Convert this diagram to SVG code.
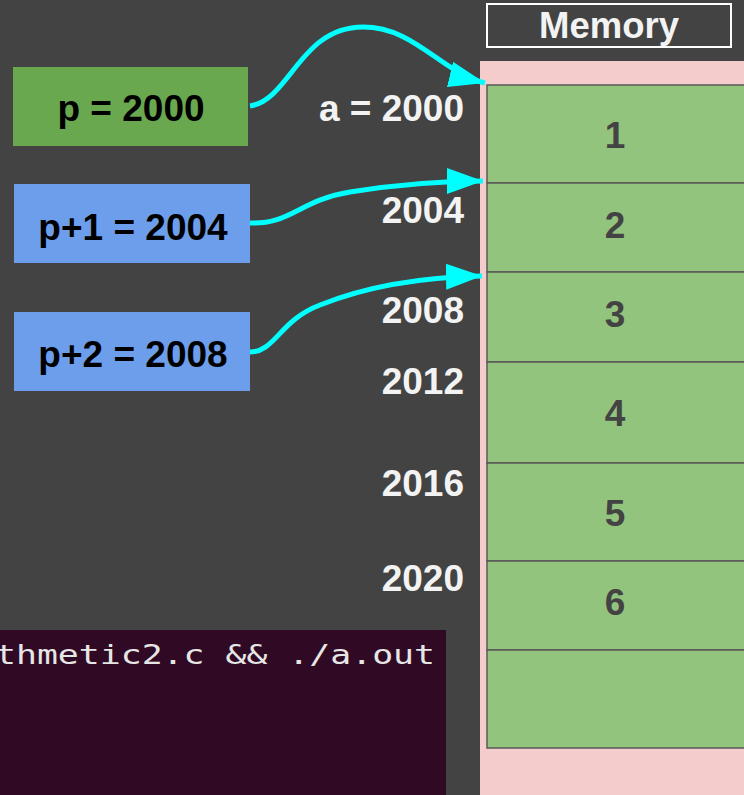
<svg xmlns="http://www.w3.org/2000/svg" width="744" height="795" viewBox="0 0 744 795">
<style>
.lbl{font-family:"Liberation Sans",Arial,sans-serif;font-weight:bold;}
.addr{fill:#f3f3f3;font-size:37px;text-anchor:end;}
.num{fill:#434343;font-size:37px;text-anchor:middle;}
.ptr{fill:#000;font-size:37px;text-anchor:middle;}
.cell{fill:#93c47d;stroke:#595959;stroke-width:1.5;}
.arrow{fill:none;stroke:#00ffff;stroke-width:5;marker-end:url(#ah);}
</style>
<defs>
<marker id="ah" markerUnits="userSpaceOnUse" markerWidth="38" markerHeight="28" refX="36" refY="13" orient="auto">
<path d="M0,0 L36,13 L0,26 z" fill="#00ffff"/>
</marker>
</defs>
<rect x="0" y="0" width="744" height="795" fill="#434343"/>
<g id="terminal">
<rect x="0" y="630" width="446" height="165" fill="#300a24"/>
<text x="-5" y="664" font-family="'DejaVu Sans Mono','Liberation Mono',monospace" font-size="26" fill="#e6e6e6" textLength="440" lengthAdjust="spacingAndGlyphs">thmetic2.c &amp;&amp; ./a.out</text>
</g>
<g id="memory-title">
<rect x="487" y="4" width="244" height="43" fill="none" stroke="#ffffff" stroke-width="2"/>
<text class="lbl" x="609" y="38" font-size="36.5" fill="#f3f3f3" text-anchor="middle">Memory</text>
</g>
<g id="memory">
<rect x="480" y="61" width="264" height="734" fill="#f4cccc"/>
<g id="cell1"><rect class="cell" x="487" y="85" width="260" height="98"/><text class="lbl num" x="615" y="148">1</text></g>
<g id="cell2"><rect class="cell" x="487" y="183" width="260" height="89"/><text class="lbl num" x="615" y="238">2</text></g>
<g id="cell3"><rect class="cell" x="487" y="272" width="260" height="90"/><text class="lbl num" x="615" y="327">3</text></g>
<g id="cell4"><rect class="cell" x="487" y="362" width="260" height="101"/><text class="lbl num" x="615" y="426">4</text></g>
<g id="cell5"><rect class="cell" x="487" y="463" width="260" height="98"/><text class="lbl num" x="615" y="526">5</text></g>
<g id="cell6"><rect class="cell" x="487" y="561" width="260" height="89"/><text class="lbl num" x="615" y="615">6</text></g>
<g id="cell7"><rect class="cell" x="487" y="650" width="260" height="98"/></g>
</g>
<g id="addresses">
<text class="lbl addr" x="464" y="121">a = 2000</text>
<text class="lbl addr" x="464" y="223">2004</text>
<text class="lbl addr" x="464" y="323">2008</text>
<text class="lbl addr" x="464" y="394">2012</text>
<text class="lbl addr" x="464" y="496">2016</text>
<text class="lbl addr" x="464" y="591">2020</text>
</g>
<g id="p">
<rect x="13" y="67" width="235" height="79" fill="#6aa84f"/>
<text class="lbl ptr" x="131" y="121">p = 2000</text>
</g>
<g id="p1">
<rect x="14" y="184" width="236" height="79" fill="#6d9eeb"/>
<text class="lbl ptr" x="133" y="240">p+1 = 2004</text>
</g>
<g id="p2">
<rect x="14" y="312" width="236" height="79" fill="#6d9eeb"/>
<text class="lbl ptr" x="133" y="367">p+2 = 2008</text>
</g>
<g id="connectors">
<path class="arrow" d="M250,106 C290,100 300,27 363,27 C415,27 440,72 485,83"/>
<path class="arrow" d="M250,223 C290,225 300,200 350,192 C400,184 440,181 483,181"/>
<path class="arrow" d="M250,352 C275,352 280,320 320,305 C370,285 430,277 482,276"/>
</g>
</svg>
